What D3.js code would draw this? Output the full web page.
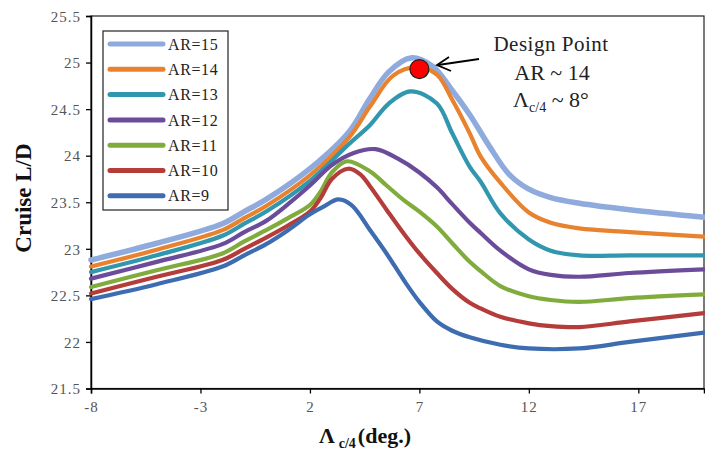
<!DOCTYPE html>
<html><head><meta charset="utf-8">
<script src="https://cdn.jsdelivr.net/npm/d3@7"></script>
<style>
html,body{margin:0;padding:0;background:#fff;}
svg{display:block;}
</style></head>
<body>
<svg id="chart" width="705" height="452"></svg>
<script>
// ---- data ----
const seriesNames = ["AR=15","AR=14","AR=13","AR=12","AR=11","AR=10","AR=9"];
const seriesColors = ["#8FAADC","#E8822F","#3197AE","#6B4C9A","#80AC3E","#B43C3A","#3D6CB1"];
const xTicks = [-8,-3,2,7,12,17];
const yTicks = [21.5,22,22.5,23,23.5,24,24.5,25,25.5];

const ar15 = [[-8,22.88],[-5,23.06],[-2,23.27],[-1,23.4],[0,23.53],[2,23.86],[3.8,24.26],[4.7,24.6],[5.6,24.9],[6.6,25.05],[7.6,24.96],[8.5,24.7],[9.3,24.44],[10.2,24.1],[11.1,23.8],[12,23.64],[13,23.55],[14.3,23.49],[16.6,23.42],[20,23.34]];
const ar14 = [[-8,22.81],[-5,22.99],[-2,23.2],[-1,23.33],[0,23.46],[2,23.79],[3.8,24.2],[4.75,24.53],[5.8,24.86],[6.9,24.95],[7.8,24.87],[8.5,24.6],[9.3,24.24],[9.8,23.99],[10.7,23.71],[12,23.39],[13,23.28],[14.3,23.22],[16.6,23.18],[20,23.13]];
const ar13 = [[-8,22.75],[-5,22.93],[-2,23.14],[-1,23.27],[0,23.4],[2,23.73],[3.8,24.13],[4.75,24.33],[5.6,24.56],[6.6,24.69],[7.8,24.56],[8.5,24.24],[9.3,23.88],[9.8,23.72],[10.7,23.38],[12,23.1],[13,22.98],[14.3,22.93],[16.6,22.93],[20,22.93]];
const ar12 = [[-8,22.68],[-5,22.86],[-2,23.05],[-1,23.18],[0,23.3],[1,23.48],[2,23.68],[3,23.9],[4,24.03],[5,24.07],[6,23.97],[7,23.82],[7.8,23.66],[8.5,23.48],[9.3,23.28],[9.8,23.17],[10.7,22.98],[12,22.78],[13,22.72],[14.3,22.7],[16.6,22.74],[20,22.78]];
const ar11 = [[-8,22.59],[-5,22.77],[-2,22.95],[-1,23.08],[0,23.2],[1,23.33],[2,23.47],[2.5,23.62],[3,23.82],[3.7,23.94],[4.75,23.83],[5.5,23.68],[6.3,23.52],[7,23.4],[7.8,23.24],[8.5,23.06],[9.3,22.86],[9.8,22.76],[10.7,22.6],[12,22.49],[13,22.45],[14.3,22.43],[16.6,22.47],[20,22.51]];
const ar10 = [[-8,22.52],[-5,22.7],[-2,22.88],[-1,23.0],[0,23.12],[1,23.25],[2,23.4],[2.5,23.55],[3,23.75],[3.75,23.86],[4.3,23.8],[4.75,23.67],[5.5,23.42],[6.3,23.16],[7,22.95],[7.8,22.74],[8.5,22.57],[9.3,22.42],[9.8,22.36],[10.7,22.27],[12,22.2],[13,22.17],[14.3,22.16],[16.6,22.22],[20,22.31]];
const ar9  = [[-8,22.46],[-5,22.62],[-2,22.81],[-1,22.93],[0,23.05],[1,23.2],[2,23.37],[2.6,23.45],[3.3,23.53],[3.9,23.47],[4.75,23.2],[5.5,22.95],[6.3,22.66],[7,22.43],[7.8,22.22],[8.5,22.12],[9.3,22.05],[10.7,21.97],[12,21.93],[14.3,21.93],[16.6,22.0],[20,22.1]];
const seriesData = [ar15, ar14, ar13, ar12, ar11, ar10, ar9];
const designPoint = [7.0, 24.93];

// ---- layout ----
const svg = d3.select("#chart");
const L = 91, R = 704, T = 16, B = 388.5;
const x = d3.scaleLinear().domain([-8, 20]).range([L, R]);
const y = d3.scaleLinear().domain([21.5, 25.5]).range([B, T]);
const serif = "'Liberation Serif','Times New Roman',serif";

// frame top/right
svg.append("rect").attr("x", L).attr("y", T).attr("width", R - L).attr("height", B - T)
  .attr("fill", "none").attr("stroke", "#222").attr("stroke-width", 1.2);

// axes
const fmt = d => String(d);
const yAxis = svg.append("g").attr("transform", `translate(${L},0)`)
  .call(d3.axisLeft(y).tickValues(yTicks).tickSize(5).tickPadding(5).tickFormat(fmt));
const xAxis = svg.append("g").attr("transform", `translate(0,${B})`)
  .call(d3.axisBottom(x).tickValues(xTicks).tickSize(5).tickPadding(8).tickFormat(fmt));
[yAxis, xAxis].forEach(a => {
  a.select(".domain").attr("stroke", "#000").attr("stroke-width", 1.5);
  a.selectAll(".tick line").attr("stroke", "#000").attr("stroke-width", 1.3);
  a.selectAll(".tick text").attr("font-family", serif).attr("font-size", 15)
    .attr("fill", "#555").attr("letter-spacing", "1px");
});
yAxis.selectAll(".tick text").attr("dy", "0.35em");

// lines
const line = d3.line().x(d => x(d[0])).y(d => y(d[1])).curve(d3.curveCatmullRom.alpha(0.5));
seriesData.forEach((s, i) => {
  svg.append("path").datum(s).attr("d", line).attr("fill", "none")
    .attr("stroke", seriesColors[i]).attr("stroke-width", i === 0 ? 5.5 : 4.2)
    .attr("stroke-linecap", "round").attr("stroke-linejoin", "round");
});

// legend
const lg = svg.append("g");
lg.append("rect").attr("x", 103).attr("y", 31).attr("width", 125).attr("height", 179)
  .attr("fill", "#fff").attr("stroke", "#222").attr("stroke-width", 1.2);
seriesNames.forEach((n, i) => {
  const yy = 44 + i * 25.3;
  lg.append("line").attr("x1", 110).attr("x2", 163).attr("y1", yy).attr("y2", yy)
    .attr("stroke", seriesColors[i]).attr("stroke-width", 5).attr("stroke-linecap", "round");
  lg.append("text").attr("x", 168).attr("y", yy).attr("dy", "0.35em")
    .attr("font-family", serif).attr("font-size", 16).attr("fill", "#222")
    .attr("letter-spacing", "0.6px").text(n);
});

// design point
svg.append("circle").attr("cx", x(designPoint[0])).attr("cy", y(designPoint[1])).attr("r", 9.5)
  .attr("fill", "#FF0000").attr("stroke", "#222").attr("stroke-width", 1.2);

// arrow
svg.append("line").attr("x1", 479).attr("y1", 59).attr("x2", 438).attr("y2", 65)
  .attr("stroke", "#000").attr("stroke-width", 1.8);
svg.append("path").attr("d", "M449,57 L437,65 L451,71").attr("fill", "none")
  .attr("stroke", "#000").attr("stroke-width", 1.8);

// annotation text
const ann = svg.append("g").attr("font-family", serif).attr("fill", "#222").attr("text-anchor", "middle");
ann.append("text").attr("x", 551).attr("y", 51).attr("font-size", 21).attr("letter-spacing", "0.5px").text("Design Point");
ann.append("text").attr("x", 552).attr("y", 80).attr("font-size", 22).text("AR ~ 14");
const t3 = ann.append("text").attr("x", 551).attr("y", 107).attr("font-size", 22);
t3.append("tspan").text("Λ");
t3.append("tspan").attr("font-size", 14).attr("dy", 5).text("c/4");
t3.append("tspan").attr("dy", -5).text(" ~ 8°");

// axis titles
svg.append("text").attr("transform", "translate(31,198) rotate(-90)")
  .attr("text-anchor", "middle").attr("font-family", serif).attr("font-weight", "bold")
  .attr("font-size", 23).attr("fill", "#111").text("Cruise L/D");
const xt = svg.append("text").attr("x", 365).attr("y", 443).attr("text-anchor", "middle")
  .attr("font-family", serif).attr("font-weight", "bold").attr("font-size", 22).attr("fill", "#111");
xt.append("tspan").text("Λ");
xt.append("tspan").attr("font-size", 14).attr("dy", 5).attr("dx", 4).text("c/4");
xt.append("tspan").attr("dy", -5).attr("dx", 2).text("(deg.)");
</script>
</body></html>
